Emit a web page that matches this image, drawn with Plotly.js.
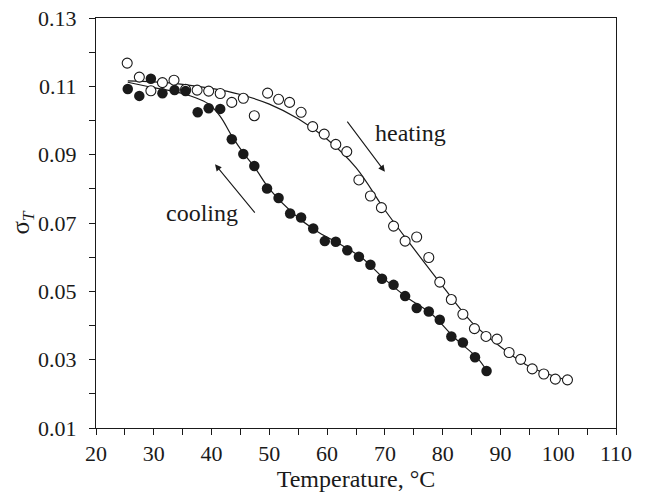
<!DOCTYPE html>
<html>
<head>
<meta charset="utf-8">
<script src="https://cdn.plot.ly/plotly-3.0.1.min.js"></script>
<style>html,body{margin:0;padding:0;background:#fff;}#chart{width:652px;height:499px;}</style>
</head>
<body>
<div id="chart"></div>
<script>
// Heating (open circles)
const heatingT = [25.4,27.5,29.5,31.5,33.5,35.5,37.5,39.5,41.5,43.5,45.5,47.4,49.7,51.6,53.5,55.5,57.5,59.5,61.5,63.4,65.5,67.5,69.4,71.5,73.5,75.5,77.6,79.5,81.5,83.5,85.5,87.5,89.4,91.5,93.5,95.5,97.5,99.5,101.6];
const heatingSigma = [0.1168,0.1127,0.1087,0.1111,0.1118,0.1091,0.1089,0.1086,0.1079,0.1053,0.1065,0.1014,0.1080,0.1062,0.1053,0.1024,0.0982,0.0960,0.0930,0.0909,0.0826,0.0779,0.0745,0.0691,0.0647,0.0659,0.0599,0.0527,0.0476,0.0433,0.0391,0.0368,0.0360,0.0321,0.0301,0.0273,0.0258,0.0243,0.0241];
// Cooling (filled circles)
const coolingT = [25.5,27.5,29.5,31.5,33.6,35.5,37.6,39.5,41.5,43.5,45.5,47.4,49.6,51.6,53.6,55.5,57.6,59.6,61.5,63.5,65.5,67.5,69.5,71.5,73.5,75.5,77.6,79.5,81.5,83.5,85.6,87.6];
const coolingSigma = [0.1092,0.1072,0.1122,0.1080,0.1089,0.1086,0.1024,0.1036,0.1034,0.0945,0.0902,0.0867,0.0801,0.0773,0.0728,0.0716,0.0684,0.0647,0.0645,0.0620,0.0601,0.0578,0.0537,0.0519,0.0486,0.0451,0.0441,0.0417,0.0368,0.0350,0.0307,0.0267];
// Fitted curves
const heatFitT = [25.5,30,35,40,45,50,55,60,65,70,75,80,85,90,95,101.5];
const heatFitSigma = [0.1116,0.1113,0.1106,0.1094,0.1076,0.1048,0.1005,0.0945,0.0862,0.0738,0.0625,0.0515,0.0410,0.0338,0.0280,0.0240];
const coolFitT = [25.5,30,34,37,39.5,41.5,43.5,45.5,47.5,50,54,58,62,66,70,74,78,82,86,87.6];
const coolFitSigma = [0.1112,0.1096,0.1083,0.1068,0.1048,0.1012,0.0955,0.0905,0.0862,0.0800,0.0730,0.0678,0.0640,0.0598,0.0535,0.0480,0.0435,0.0365,0.0305,0.0268];
// Tick labels
const xTicks = [20,30,40,50,60,70,80,90,100,110];
const yTicks = [0.01,0.03,0.05,0.07,0.09,0.11,0.13];
// Annotation labels
const labels = [{text:'heating', x:74.5, y:0.0963},{text:'cooling', x:38.3, y:0.0728}];
const arrows = [{x:70.0,y:0.0850,ax:63.3,ay:0.1001},{x:40.6,y:0.0872,ax:47.7,ay:0.0726}];

const FONT = '"Liberation Serif", "Times New Roman", serif';
const traces = [
  {x:heatFitT, y:heatFitSigma, mode:'lines', line:{color:'#1a1a1a', width:1.2, shape:'spline', smoothing:1}, hoverinfo:'skip'},
  {x:coolFitT, y:coolFitSigma, mode:'lines', line:{color:'#1a1a1a', width:1.2, shape:'spline', smoothing:1}, hoverinfo:'skip'},
  {x:heatingT, y:heatingSigma, mode:'markers', marker:{symbol:'circle', size:10, color:'#ffffff', line:{color:'#1a1a1a', width:1.1}}},
  {x:coolingT, y:coolingSigma, mode:'markers', marker:{symbol:'circle', size:10.5, color:'#1a1a1a', line:{width:0}}}
];
const annotations = labels.map(l => ({x:l.x, y:l.y, xref:'x', yref:'y', text:l.text, showarrow:false, font:{family:FONT, size:24, color:'#1a1a1a'}}))
  .concat(arrows.map(a => ({x:a.x, y:a.y, ax:a.ax, ay:a.ay, xref:'x', yref:'y', axref:'x', ayref:'y', text:'', showarrow:true, arrowhead:2, arrowsize:1.2, arrowwidth:1.1, arrowcolor:'#1a1a1a'})));
const layout = {
  width:652, height:499,
  margin:{l:96, r:36, t:18, b:71, pad:0},
  paper_bgcolor:'#ffffff', plot_bgcolor:'#ffffff',
  showlegend:false,
  font:{family:FONT, size:22, color:'#1a1a1a'},
  xaxis:{range:[20,110], tickvals:xTicks, ticktext:xTicks.map(String), ticks:'outside', ticklen:6, tickwidth:1, tickcolor:'#1a1a1a',
    minor:{dtick:5, tick0:20, ticks:'outside', ticklen:6, tickcolor:'#1a1a1a', showgrid:false},
    showline:true, linecolor:'#1a1a1a', linewidth:1, mirror:true, showgrid:false, zeroline:false,
    title:{text:'Temperature, °C', font:{family:FONT, size:24}, standoff:4}},
  yaxis:{range:[0.01,0.13], tickvals:yTicks, ticktext:yTicks.map(v=>v.toFixed(2)), ticks:'outside', ticklen:6, tickwidth:1, tickcolor:'#1a1a1a',
    ticklabelstandoff:8,
    minor:{dtick:0.01, tick0:0.01, ticks:'outside', ticklen:6, tickcolor:'#1a1a1a', showgrid:false},
    showline:true, linecolor:'#1a1a1a', linewidth:1, mirror:true, showgrid:false, zeroline:false,
    title:{text:'σ<sub><i>T</i></sub>', font:{family:FONT, size:25}, standoff:0}},
  annotations:annotations
};
Plotly.newPlot('chart', traces, layout, {staticPlot:true, displayModeBar:false});
</script>
</body>
</html>
